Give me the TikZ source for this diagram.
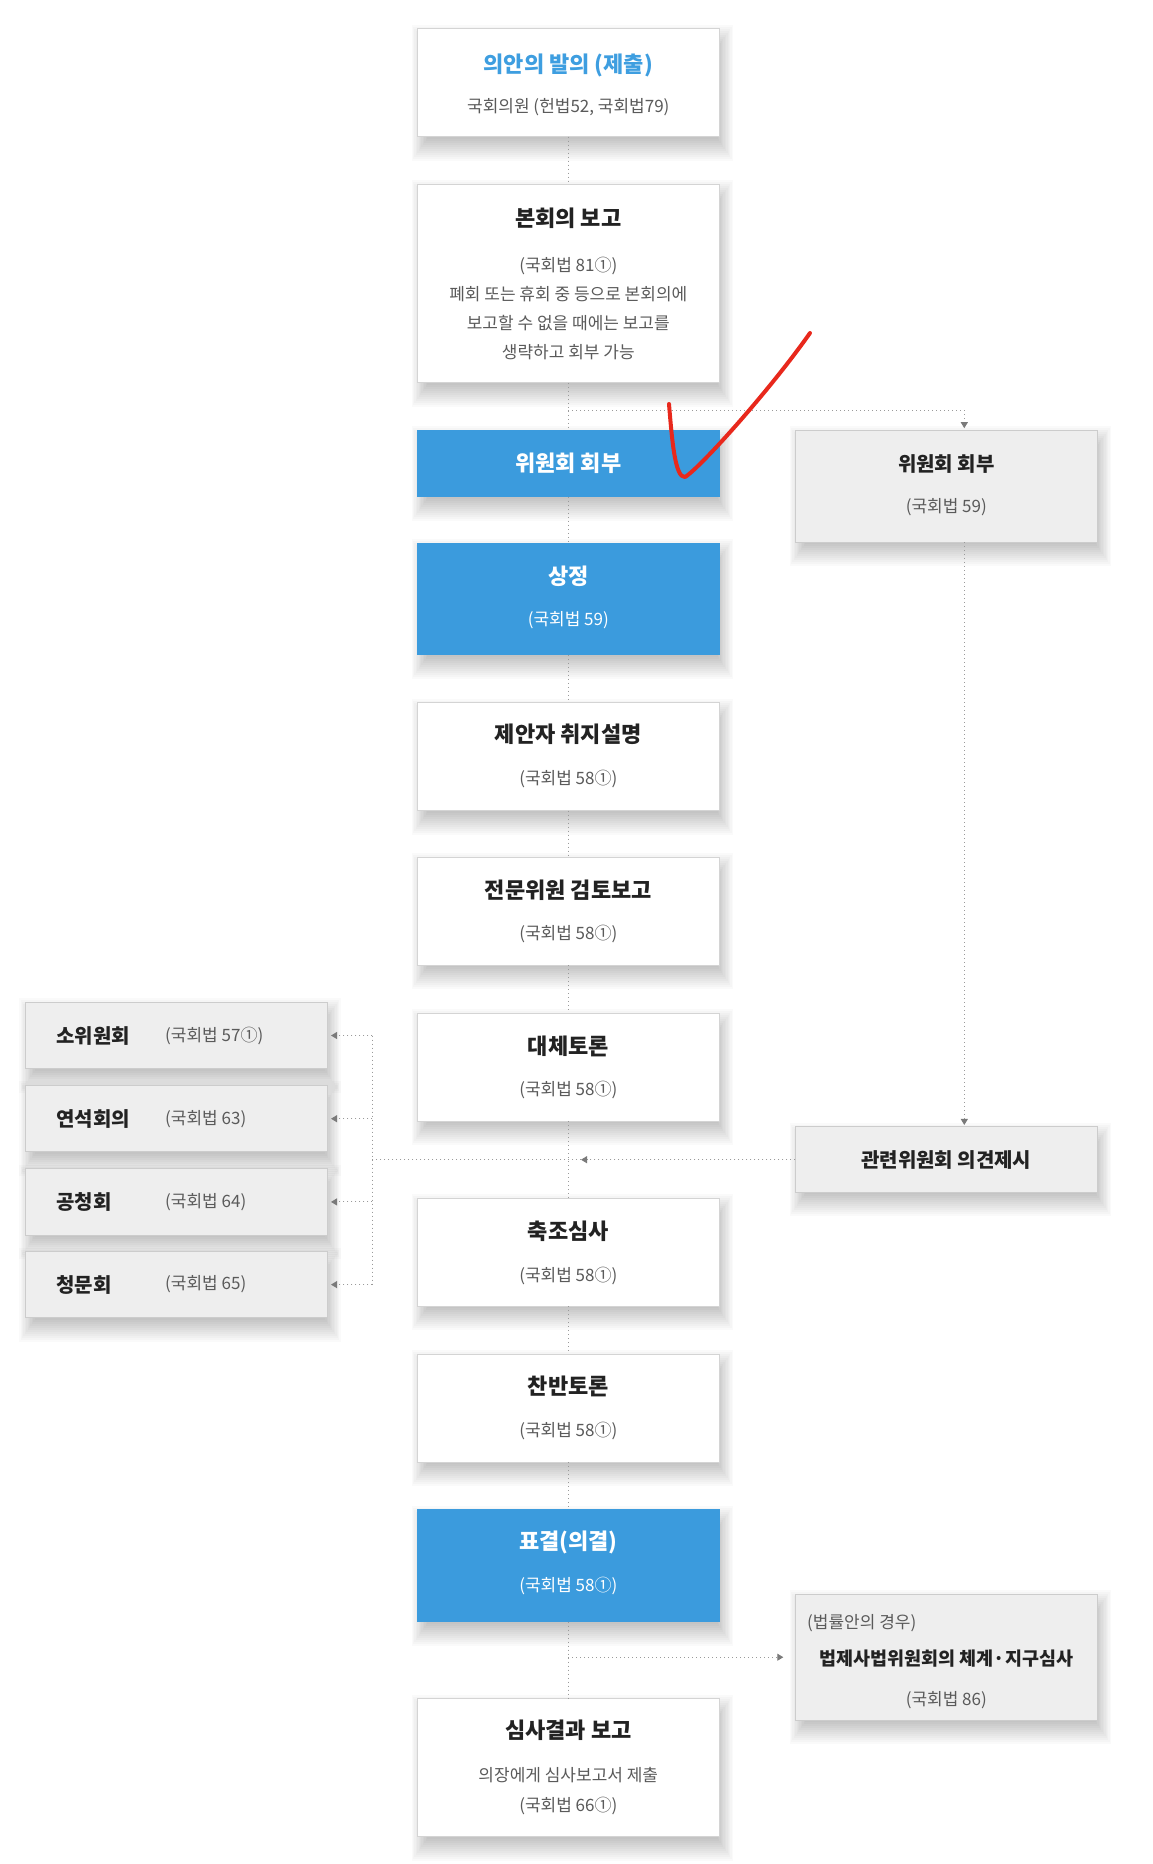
\documentclass[tikz,border=0pt]{standalone}
\usepackage{fontspec}
\setmainfont{Noto Sans CJK KR}
\usetikzlibrary{arrows.meta}
\definecolor{bluefill}{HTML}{3B9BDD}
\definecolor{titleblue}{HTML}{3E9EE0}
\definecolor{wborder}{HTML}{D4D4D4}
\definecolor{gfill}{HTML}{EEEEEE}
\definecolor{gborder}{HTML}{CCCCCC}
\definecolor{ttl}{HTML}{222222}
\definecolor{subc}{HTML}{5A5A5A}
\definecolor{lineg}{HTML}{9A9A9A}
\definecolor{arrowg}{HTML}{7A7A7A}
\definecolor{checkred}{HTML}{E8281C}
\pgfdeclarelayer{shadowlayer}
\pgfsetlayers{shadowlayer,main}
\begin{document}
\begin{tikzpicture}[x=1pt,y=-1pt,
 box/.style={rectangle, inner sep=0pt, outer sep=0pt, minimum width=302pt, line width=1pt},
 wbox/.style={box, fill=white, draw=wborder},
 bbox/.style={box, fill=bluefill, draw=bluefill},
 gbox/.style={box, fill=gfill, draw=gborder},
 ttext/.style={font=\fontsize{22}{26}\selectfont\bfseries, text=ttl, inner sep=0pt},
 rtext/.style={font=\fontsize{20}{24}\selectfont\bfseries, text=ttl, inner sep=0pt},
 stext/.style={font=\fontsize{17}{20}\selectfont, text=subc, inner sep=0pt},
 wt/.style={text=white},
 conn/.style={draw=lineg, line width=1pt, dash pattern=on 1pt off 3pt},
 tipped/.style={conn, -{Triangle[length=6pt,width=7pt,color=arrowg,sep=0pt]}},
 check/.style={draw=checkred, line width=4pt, line cap=round, line join=round},
 shadowpiece/.style={fill=black, opacity=0.02}
]
\useasboundingbox (0,0) rectangle (1152,1864);

% main column boxes
\node[wbox, minimum height=108pt] (n1) at (568.3,82.6) {};
\node[wbox, minimum height=198.5pt] (n2) at (568.3,283.5) {};
\node[bbox, minimum height=66.5pt] (n3) at (568.3,463.6) {};
\node[bbox, minimum height=111.7pt] (n4) at (568.3,599.1) {};
\node[wbox, minimum height=108pt] (n5) at (568.3,756.7) {};
\node[wbox, minimum height=108pt] (n6) at (568.3,911.2) {};
\node[wbox, minimum height=108pt] (n7) at (568.3,1067) {};
\node[wbox, minimum height=108pt] (n8) at (568.3,1252.4) {};
\node[wbox, minimum height=108pt] (n9) at (568.3,1408.1) {};
\node[bbox, minimum height=112pt] (n10) at (568.3,1565.7) {};
\node[wbox, minimum height=138pt] (n11) at (568.3,1767.8) {};

% right column
\node[gbox, minimum height=112pt] (r1) at (946.3,486.2) {};
\node[gbox, minimum height=65.5pt] (r2) at (946.3,1159.7) {};
\node[gbox, minimum height=126pt] (r3) at (946.3,1657.2) {};

% left column
\node[gbox, minimum height=66.5pt] (l1) at (176,1035.5) {};
\node[gbox, minimum height=66.5pt] (l2) at (176,1118.7) {};
\node[gbox, minimum height=66.5pt] (l3) at (176,1201.9) {};
\node[gbox, minimum height=66pt] (l4) at (176,1284.6) {};

% background and soft shadows
\begin{pgfonlayer}{shadowlayer}
\fill[white] (0,0) rectangle (1152,1864);
\foreach \n in {n1,n2,n3,n4,n5,n6,n7,n8,n9,n10,n11,r1,r2,r3,l1,l2,l3,l4}{
  \foreach \e in {14,12,...,-14}{
    \fill[shadowpiece] ([xshift=-0.7*\e pt+4pt, yshift=\e pt-10pt]\n.north west) rectangle ([xshift=0.7*\e pt+4pt, yshift=-\e pt-10pt]\n.south east);
  }
}
\end{pgfonlayer}

% texts main column
\node[ttext, text=titleblue] (n1t) at (568.3,65) {의안의 발의 (제출)};
\node[stext] (n1s) at (568.3,107) {국회의원 (헌법52, 국회법79)};
\node[ttext] (n2t) at (568.3,218) {본회의 보고};
\node[stext, align=center, font=\fontsize{17}{29}\selectfont] (n2s) at (568.3,308.5)
  {(국회법 81①)\\폐회 또는 휴회 중 등으로 본회의에\\보고할 수 없을 때에는 보고를\\생략하고 회부 가능};
\node[ttext, wt] (n3t) at (568.3,463.6) {위원회 회부};
\node[ttext, wt] (n4t) at (568.3,576.6) {상정};
\node[stext, wt] (n4s) at (568.3,620.6) {(국회법 59)};
\node[ttext] (n5t) at (568.3,734.7) {제안자 취지설명};
\node[stext] (n5s) at (568.3,778.7) {(국회법 58①)};
\node[ttext] (n6t) at (568.3,890.5) {전문위원 검토보고};
\node[stext] (n6s) at (568.3,934.4) {(국회법 58①)};
\node[ttext] (n7t) at (568.3,1046.2) {대체토론};
\node[stext] (n7s) at (568.3,1090.2) {(국회법 58①)};
\node[ttext] (n8t) at (568.3,1231.7) {축조심사};
\node[stext] (n8s) at (568.3,1275.6) {(국회법 58①)};
\node[ttext] (n9t) at (568.3,1386.2) {찬반토론};
\node[stext] (n9s) at (568.3,1431.4) {(국회법 58①)};
\node[ttext, wt] (n10t) at (568.3,1542) {표결(의결)};
\node[stext, wt] (n10s) at (568.3,1586) {(국회법 58①)};
\node[ttext] (n11t) at (568.3,1729.8) {심사결과 보고};
\node[stext] (n11s) at (568.3,1775) {의장에게 심사보고서 제출};
\node[stext] (n11u) at (568.3,1806) {(국회법 66①)};

% texts right column
\node[rtext] (r1t) at (946.3,463.6) {위원회 회부};
\node[stext] (r1s) at (946.3,507.6) {(국회법 59)};
\node[rtext] (r2t) at (946.3,1159.7) {관련위원회 의견제시};
\node[stext, anchor=west] (r3a) at (807,1622.8) {(법률안의 경우)};
\node[rtext, font=\fontsize{18.5}{22}\selectfont\bfseries] (r3t) at (946.3,1658.5) {법제사법위원회의 체계·지구심사};
\node[stext] (r3s) at (946.3,1700) {(국회법 86)};

% texts left column
\node[rtext, anchor=west] (l1t) at (56,1035.5) {소위원회};
\node[stext, anchor=west] (l1s) at (165,1035.5) {(국회법 57①)};
\node[rtext, anchor=west] (l2t) at (56,1118.7) {연석회의};
\node[stext, anchor=west] (l2s) at (165,1118.7) {(국회법 63)};
\node[rtext, anchor=west] (l3t) at (56,1201.9) {공청회};
\node[stext, anchor=west] (l3s) at (165,1201.9) {(국회법 64)};
\node[rtext, anchor=west] (l4t) at (56,1284.6) {청문회};
\node[stext, anchor=west] (l4s) at (165,1284.6) {(국회법 65)};

% trunk
\draw[conn] (n1.south) -- (n2.north);
\draw[conn] (n2.south) -- (n3.north);
\draw[conn] (n3.south) -- (n4.north);
\draw[conn] (n4.south) -- (n5.north);
\draw[conn] (n5.south) -- (n6.north);
\draw[conn] (n6.south) -- (n7.north);
\draw[conn] (n7.south) -- (n8.north);
\draw[conn] (n8.south) -- (n9.north);
\draw[conn] (n9.south) -- (n10.north);
\draw[conn] (n10.south) -- (n11.north);

% top branch
\coordinate (b1) at (568.3,410);
\draw[tipped, shorten >=2pt] (b1) -| ([xshift=18pt]r1.north);
\draw[tipped, shorten >=2pt] ([xshift=18pt]r1.south) -- ([xshift=18pt]r2.north);

% 관련위원회 to trunk and left boxes
\coordinate (m1) at (581,1159.7);
\coordinate (j1) at (372.3,1159.7);
\draw[tipped] (r2.west) -- (m1);
\draw[conn] (m1) -- (j1);
\coordinate (jt) at (372.3,1035.5);
\coordinate (jb) at (372.3,1284.6);
\draw[conn] (jt) -- (jb);
\draw[tipped, shorten >=4pt] (jt) -- (l1.east);
\draw[tipped, shorten >=4pt] (l2.east -| jt) -- (l2.east);
\draw[tipped, shorten >=4pt] (l3.east -| jt) -- (l3.east);
\draw[tipped, shorten >=4pt] (jb) -- (l4.east);

% bottom branch
\coordinate (b2) at (568.3,1657.2);
\draw[tipped, shorten >=12pt] (b2) -- (r3.west);

% red check mark
\draw[check] (669,404) .. controls (672,440) and (675,478) .. (685,477)
  .. controls (700,468) and (770,390) .. (810,333);
\end{tikzpicture}
\end{document}
